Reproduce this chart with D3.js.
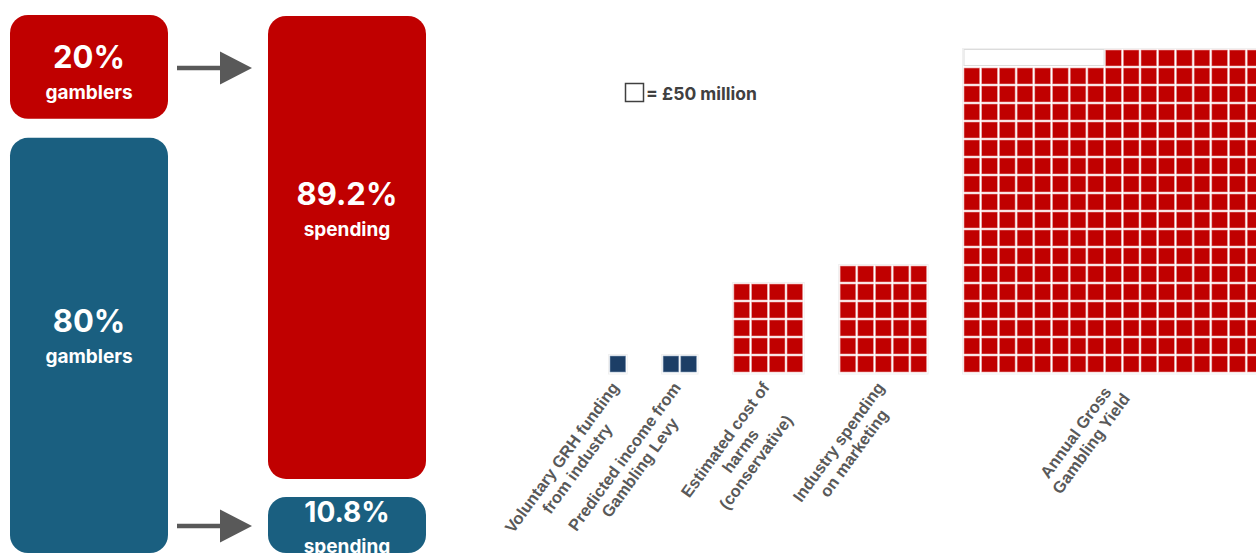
<!DOCTYPE html>
<html>
<head>
<meta charset="utf-8">
<script src="https://cdn.jsdelivr.net/npm/d3@7"></script>
<style>
	body { margin: 0; background: #fff; }
	svg { display: block; }
</style>
</head>
<body>
<svg width="1256" height="553"></svg>
<script>
// share of gamblers vs share of spending
var gamblerShares = [20, 80];
var gamblerWords = ["gamblers", "gamblers"];
var spendingShares = [89.2, 10.8];
var spendingWords = ["spending", "spending"];

// waffle: one square = £50 million
var squareValue = 50;
var legendText = "= £" + squareValue + " million";
var waffleLabels = [
	["Voluntary GRH funding", "from industry"],
	["Predicted income from", "Gambling Levy"],
	["Estimated cost of", "harms", "(conservative)"],
	["Industry spending", "on marketing"],
	["Annual Gross", "Gambling Yield"]
];
var waffleSquares = [1, 2, 20, 30, 298];
var waffleCols = [1, 2, 4, 5, 17];

var svg = d3.select("svg"),
	width = +svg.attr("width"),
	height = +svg.attr("height");

var red = "#c00000",
	blue = "#1a5f80",
	navy = "#1c3e66",
	grey = "#595959";

var font = "Inter, 'Open Sans', sans-serif";

//Left: stacked rounded boxes
var share = d3.scaleLinear().domain([0, 100]).range([0, 519]);

function boxColumn(values, words, x, top, gap, colours, offsets, sizes) {
	var y0 = top;
	values.forEach(function(v, i) {
		var h = share(v);
		var g = svg.append("g").attr("transform", "translate(" + x + "," + y0 + ")");
		g.append("rect")
			.attr("width", 158)
			.attr("height", h)
			.attr("rx", 18)
			.attr("fill", colours[i]);
		g.append("text")
			.attr("x", 79)
			.attr("y", offsets[i])
			.attr("text-anchor", "middle")
			.attr("fill", "#fff")
			.style("font", "700 " + sizes[i] + "px " + font)
			.text(v + "%");
		g.append("text")
			.attr("x", 79)
			.attr("y", offsets[i] + 31)
			.attr("text-anchor", "middle")
			.attr("fill", "#fff")
			.style("font", "700 19px " + font)
			.text(words[i]);
		y0 += h + gap;
	});
}

boxColumn(gamblerShares, gamblerWords, 10, 15, 19, [red, blue], [53, 194], [31, 31]);
boxColumn(spendingShares, spendingWords, 268, 16, 18, [red, blue], [189, 25], [31, 28]);

//Arrows from gamblers to spending
function arrow(y) {
	svg.append("line")
		.attr("x1", 177).attr("x2", 222)
		.attr("y1", y).attr("y2", y)
		.attr("stroke", grey)
		.attr("stroke-width", 4.5);
	svg.append("path")
		.attr("d", "M220," + (y - 16.5) + "L252," + y + "L220," + (y + 16.5) + "Z")
		.attr("fill", grey);
}
arrow(68);
arrow(526);

//Legend
svg.append("rect")
	.attr("x", 625.5).attr("y", 83.5)
	.attr("width", 18).attr("height", 18)
	.attr("fill", "none")
	.attr("stroke", "#404040")
	.attr("stroke-width", 1.5);
svg.append("text")
	.attr("x", 646)
	.attr("y", 99.5)
	.attr("fill", "#404040")
	.style("font", "700 17.5px " + font)
	.text(legendText);

//Waffles
var pitchX = 17.7, pitchY = 18, bottom = 373;
var colX = d3.scaleLinear().domain([0, 1]).range([610, 610 + pitchX]);
var rowY = d3.scaleLinear().domain([0, 1]).range([bottom, bottom - pitchY]);

var start = 0;
waffleSquares.forEach(function(n, i) {
	var cols = waffleCols[i],
		rows = Math.ceil(n / cols),
		empty = rows * cols - n,
		left = start;
	var cells = d3.range(rows * cols).map(function(k) {
		return { col: k % cols, row: rows - 1 - Math.floor(k / cols), filled: k >= empty };
	});
	var g = svg.append("g").attr("class", "waffle");

	// faint plot area border
	g.append("rect")
		.attr("x", colX(left) - 1.5)
		.attr("y", rowY(rows) - 0.5)
		.attr("width", colX(cols) - colX(0) + 1)
		.attr("height", rowY(0) - rowY(rows) + 1.5)
		.attr("fill", "none")
		.attr("stroke", "#f0f0f0");

	g.selectAll("rect.cell")
		.data(cells.filter(function(d) { return d.filled; }))
		.enter().append("rect")
			.attr("class", "cell")
			.attr("x", function(d) { return colX(left + d.col); })
			.attr("y", function(d) { return rowY(d.row + 1) + 1; })
			.attr("width", pitchX - 2)
			.attr("height", pitchY - 2)
			.attr("fill", i < 2 ? navy : red)
			.attr("stroke", i < 2 ? "#8aa0bb" : "#e9a3a3")
			.attr("stroke-width", 0.6);

	if (empty > 0) {
		g.append("rect")
			.attr("x", colX(left))
			.attr("y", rowY(rows) + 0.5)
			.attr("width", colX(empty) - colX(0) - 1.5)
			.attr("height", pitchY - 2)
			.attr("fill", "#fff")
			.attr("stroke", "#dcdcdc");
	}

	// rotated category label
	var cx = (colX(left) + colX(left + cols) - 2) / 2 - 3;
	var lab = svg.append("g")
		.attr("transform", "translate(" + cx + "," + (bottom + 11) + ") rotate(-54)");
	var lines = lab.selectAll("text")
		.data(waffleLabels[i])
		.enter().append("text")
			.attr("text-anchor", "middle")
			.attr("y", function(d, j) { return 6 + j * 19; })
			.attr("fill", grey)
			.style("font", "700 16.5px 'Liberation Sans', Arial, sans-serif")
			.text(function(d) { return d; });
	var maxLen = d3.max(lines.nodes(), function(t) { return t.getComputedTextLength(); });
	lines.attr("x", -maxLen / 2);

	start += cols + 2;
});
</script>
</body>
</html>
